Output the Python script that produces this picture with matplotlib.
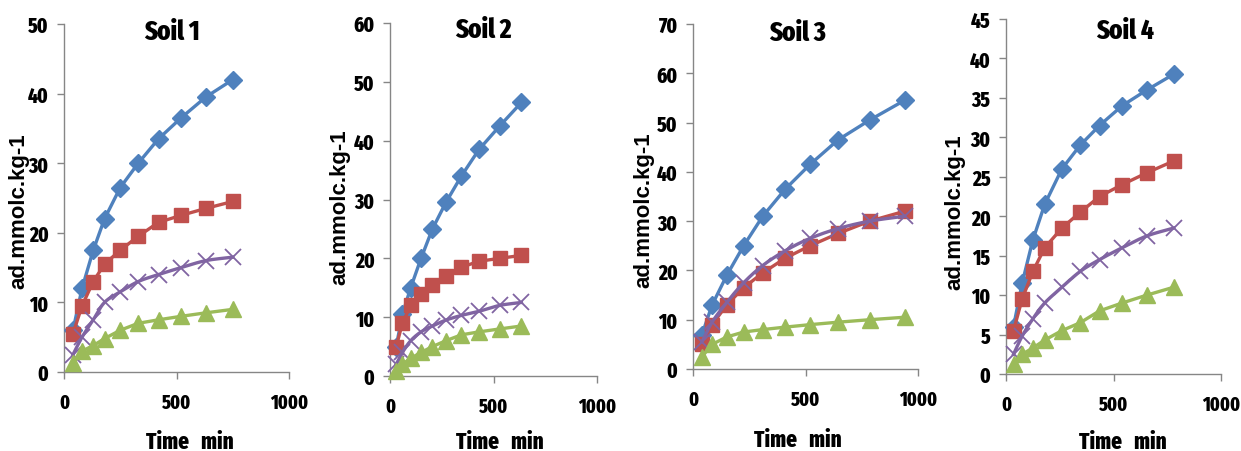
import numpy as np
import matplotlib
matplotlib.use('Agg')
import matplotlib.pyplot as plt

# ---------------- data ----------------
soil_titles = ["Soil 1", "Soil 2", "Soil 3", "Soil 4"]
y_max = [50, 60, 70, 45]
y_step = [10, 10, 10, 5]
x_ticks = [0, 500, 1000]

soil1_time = [40, 80, 130, 180, 250, 330, 420, 520, 630, 750]
soil1_blue = [6, 12, 17.5, 22, 26.5, 30, 33.5, 36.5, 39.5, 42]
soil1_red = [5.5, 9.5, 13, 15.5, 17.5, 19.5, 21.5, 22.5, 23.5, 24.5]
soil1_purple = [2.5, 5, 7.5, 10, 11.5, 13, 14, 15, 16, 16.5]
soil1_green = [1.3, 3, 3.8, 4.8, 6, 7, 7.5, 8, 8.5, 9]

soil2_time = [30, 60, 100, 150, 205, 270, 345, 430, 530, 635]
soil2_blue = [5, 10.5, 15, 20, 25, 29.5, 34, 38.5, 42.5, 46.5]
soil2_red = [5, 9, 12, 14, 15.5, 17, 18.5, 19.5, 20, 20.5]
soil2_purple = [2, 4, 6, 7.5, 8.5, 9.5, 10.3, 11, 12, 12.5]
soil2_green = [0.8, 2, 3, 4, 5, 6, 7, 7.5, 8, 8.5]

soil3_time = [40, 85, 150, 225, 310, 410, 520, 645, 785, 940]
soil3_blue = [7, 13, 19, 25, 31, 36.5, 41.5, 46.5, 50.5, 54.5]
soil3_red = [5, 9, 13, 16.5, 19.5, 22.5, 25, 27.5, 30, 32]
soil3_purple = [5.5, 9.5, 13.5, 17.5, 21, 24, 26.5, 28.5, 30, 31]
soil3_green = [2.5, 5, 6.5, 7.5, 8, 8.5, 9, 9.5, 10, 10.5]

soil4_time = [35, 75, 125, 180, 260, 345, 435, 540, 655, 780]
soil4_blue = [6, 11.5, 17, 21.5, 26, 29, 31.5, 34, 36, 38]
soil4_red = [5.5, 9.5, 13, 16, 18.5, 20.5, 22.5, 24, 25.5, 27]
soil4_purple = [2.5, 4.8, 7, 9, 11, 13, 14.5, 16, 17.5, 18.5]
soil4_green = [1.3, 2.5, 3.3, 4.3, 5.5, 6.5, 8, 9, 10, 11]

times = [soil1_time, soil2_time, soil3_time, soil4_time]
blues = [soil1_blue, soil2_blue, soil3_blue, soil4_blue]
reds = [soil1_red, soil2_red, soil3_red, soil4_red]
purples = [soil1_purple, soil2_purple, soil3_purple, soil4_purple]
greens = [soil1_green, soil2_green, soil3_green, soil4_green]

# ---------------- style ----------------
W, H = 1241, 452
fig = plt.figure(figsize=(W / 100, H / 100), dpi=100)
NARROW = ['Fira Sans Extra Condensed', 'Fira Sans Condensed', 'DejaVu Sans']
ARIAL = ['Liberation Sans', 'DejaVu Sans']

C_BLUE = '#4F81BD'
C_RED = '#C0504D'
C_GREEN = '#9BBB59'
C_PURPLE = '#8064A2'
C_AXIS = '#868686'

# axes boxes in pixels: left, right, top, bottom
boxes = [(64, 289, 25, 373), (390, 597, 24, 377), (693, 918, 25, 370), (1006, 1221, 20, 375)]
title_pos = [(172, 32), (483, 30), (798, 33), (1125, 31)]
xlabel_pos = [(190, 442), (500, 442), (798, 440), (1123, 442)]
ylabel_pos = [(19, 211), (340, 207), (644, 210), (955, 212)]


def smooth(x, y, n=20):
    # Catmull-Rom rendering of a smoothed line (Excel "smoothed line" style)
    x = np.asarray(x, float); y = np.asarray(y, float)
    P = np.column_stack([x, y])
    P = np.vstack([2 * P[0] - P[1], P, 2 * P[-1] - P[-2]])
    out = []
    t = np.linspace(0, 1, n, endpoint=False)[:, None]
    for i in range(1, len(P) - 2):
        p0, p1, p2, p3 = P[i - 1], P[i], P[i + 1], P[i + 2]
        seg = 0.5 * ((2 * p1) + (-p0 + p2) * t + (2 * p0 - 5 * p1 + 4 * p2 - p3) * t ** 2
                     + (-p0 + 3 * p1 - 3 * p2 + p3) * t ** 3)
        out.append(seg)
    out.append(P[-2][None, :])
    out = np.vstack(out)
    return out[:, 0], out[:, 1]


for i in range(4):
    l, r, t, b = boxes[i]
    ax = fig.add_axes([l / W, 1 - b / H, (r - l) / W, (b - t) / H])
    ax.set_xlim(0, 1000)
    ax.set_ylim(0, y_max[i])
    ax.set_xticks(x_ticks)
    ax.set_yticks(np.arange(0, y_max[i] + 0.1, y_step[i]))
    for s in ['top', 'right']:
        ax.spines[s].set_visible(False)
    for s in ['left', 'bottom']:
        ax.spines[s].set_color(C_AXIS)
        ax.spines[s].set_linewidth(1.0)
    ax.tick_params(axis='both', direction='out', color=C_AXIS, length=5, width=1.0)
    ax.tick_params(axis='x', pad=10)
    ax.tick_params(axis='y', pad=6)
    for lab in ax.get_xticklabels():
        lab.set_fontfamily(NARROW)
        lab.set_fontweight(800)
        lab.set_fontsize(14)
    for lab in ax.get_yticklabels():
        lab.set_fontfamily(NARROW)
        lab.set_fontweight(800)
        lab.set_fontsize(15)
    ax.patch.set_alpha(0)

    x = times[i]
    ax.plot(x, blues[i], color=C_BLUE, lw=2.4, marker='D', ms=9, mec=C_BLUE, mfc=C_BLUE,
            zorder=3, clip_on=False)
    ax.plot(x, reds[i], color=C_RED, lw=2.4, marker='s', ms=10, mec=C_RED, mfc=C_RED,
            zorder=4, clip_on=False)
    sx, sy = smooth(x, purples[i])
    ax.plot(sx, sy, color=C_PURPLE, lw=2.4, zorder=5, clip_on=False)
    ax.plot(x, purples[i], ls='none', marker='x', ms=11, mew=1.3, color=C_PURPLE,
            zorder=5, clip_on=False)
    ax.plot(x, greens[i], color=C_GREEN, lw=2.4, marker='^', ms=11, mec=C_GREEN, mfc=C_GREEN,
            zorder=6, clip_on=False)

    def px2ax(px, py):
        return (px - l) / (r - l), (b - py) / (b - t)

    tx, ty = px2ax(*title_pos[i])
    ax.text(tx, ty, soil_titles[i], transform=ax.transAxes, ha='center', va='center',
            fontsize=19.5, fontweight=800, family=NARROW)
    xx, xy = px2ax(*xlabel_pos[i])
    ax.text(xx, xy, "Time   min", transform=ax.transAxes, ha='center', va='center',
            fontsize=16.5, fontweight=800, family=NARROW, clip_on=False)
    yx, yy = px2ax(*ylabel_pos[i])
    ax.text(yx, yy, "ad.mmolc.kg-1", transform=ax.transAxes, ha='center', va='center',
            rotation=90, fontsize=16, fontweight='bold', family=ARIAL, clip_on=False)

fig.savefig('out.png', dpi=100)
